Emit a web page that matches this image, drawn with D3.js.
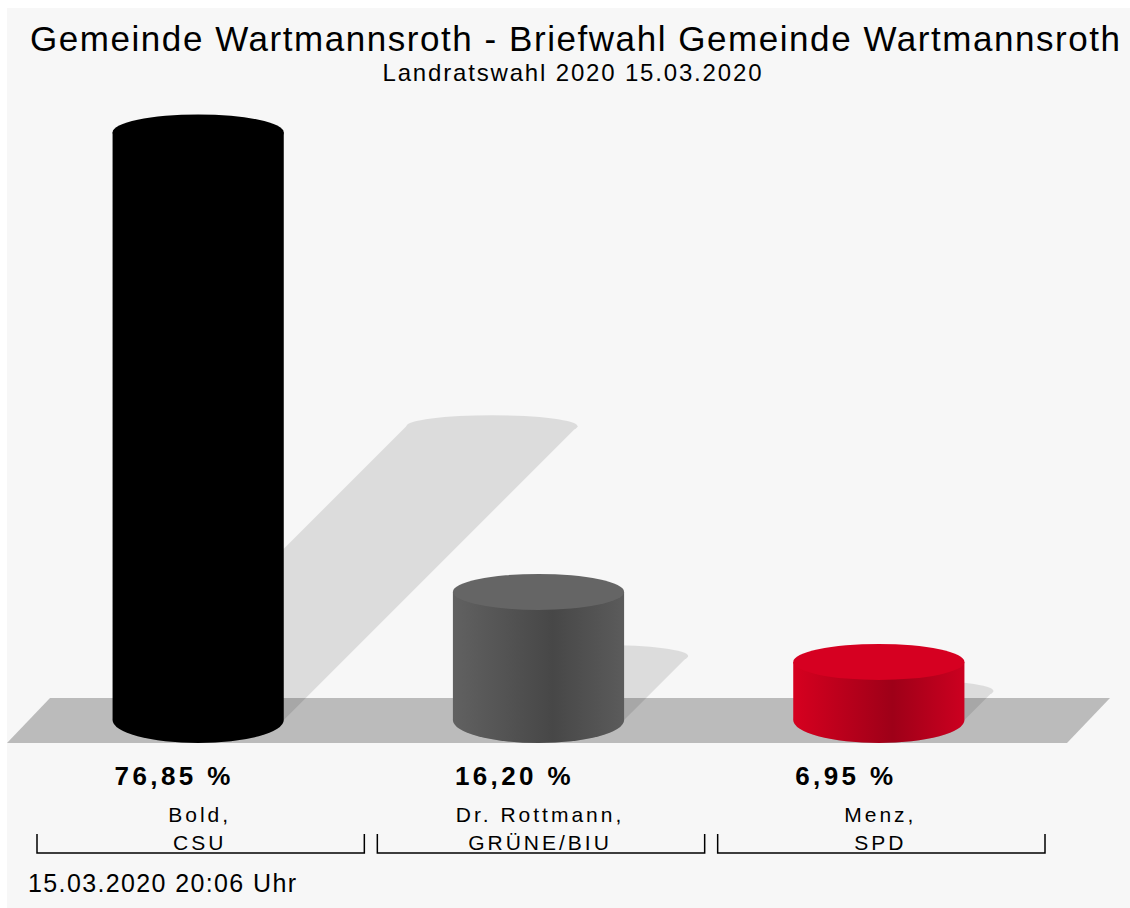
<!DOCTYPE html>
<html>
<head>
<meta charset="utf-8">
<script src="https://cdn.jsdelivr.net/npm/d3@7"></script>
<style>
    body { margin: 0; background: #ffffff; }
    svg text { font-family: "Liberation Sans", Arial, Helvetica, sans-serif; fill: #000; }
</style>
</head>
<body>
<svg id="chart" width="1130" height="908"></svg>
<script>
var title = "Gemeinde Wartmannsroth - Briefwahl Gemeinde Wartmannsroth";
var subtitle = "Landratswahl 2020 15.03.2020";
var footer = "15.03.2020 20:06 Uhr";

var candidates = ["Bold,", "Dr. Rottmann,", "Menz,"];
var parties = ["CSU", "GRÜNE/BIU", "SPD"];
var values = [76.85, 16.20, 6.95];
var bar_colors = [
    { side: ["#000000", "#000000", "#000000"], top: "#000000" },
    { side: ["#616161", "#474747", "#5b5b5b"], top: "#656565" },
    { side: ["#d6001f", "#9e0018", "#cc0020"], top: "#d60021" }
];

var width = 1130, height = 908;
var base_y = 720;          // bottom edge of the cylinder sides
var zero_y = 714.6;        // where value 0 would be on the scale
var top_ry = 18, bottom_ry = 23, shadow_ry = 11;

var svg = d3.select("#chart");
var de = d3.formatLocale({ decimal: ",", thousands: ".", grouping: [3], currency: ["", " €"] });
var fmt = de.format(".2f");

var x = d3.scaleBand()
    .domain(d3.range(values.length))
    .range([28, 1049])
    .padding(0);
var y = d3.scaleLinear()
    .domain([0, 100])
    .range([zero_y, zero_y - 757.5]);
var rx = x.bandwidth() * 0.503 / 2;

// panel
svg.append("rect")
    .attr("x", 7).attr("y", 8)
    .attr("width", width - 7).attr("height", height - 8)
    .attr("fill", "#f7f7f7");

// floor
svg.append("polygon")
    .attr("points", "50,698 1110,698 1067,743 7,743")
    .attr("fill", "#bbbbbb");

// gradients
var defs = svg.append("defs");
bar_colors.forEach(function (c, i) {
    var g = defs.append("linearGradient")
        .attr("id", "side" + i)
        .attr("x1", "0%").attr("x2", "100%")
        .attr("y1", "0%").attr("y2", "0%");
    g.append("stop").attr("offset", "0%").attr("stop-color", c.side[0]);
    g.append("stop").attr("offset", "58%").attr("stop-color", c.side[1]);
    g.append("stop").attr("offset", "100%").attr("stop-color", c.side[2]);
});

// shadows
svg.selectAll("g.shadow")
    .data(values)
    .enter()
    .append("g")
    .attr("class", "shadow")
    .attr("opacity", 0.1)
    .each(function (d, i) {
        var cx = x(i) + x.bandwidth() / 2;
        var s = (base_y - y(d)) * 0.5;
        var g = d3.select(this);
        g.append("polygon")
            .attr("points", [
                [cx - rx, base_y], [cx - rx + s, base_y - s],
                [cx + rx + s, base_y - s], [cx + rx, base_y]
            ].map(function (p) { return p.join(","); }).join(" "))
            .attr("fill", "#000");
        g.append("ellipse")
            .attr("cx", cx + s).attr("cy", base_y - s)
            .attr("rx", rx).attr("ry", shadow_ry)
            .attr("fill", "#000");
        g.append("ellipse")
            .attr("cx", cx).attr("cy", base_y)
            .attr("rx", rx).attr("ry", bottom_ry)
            .attr("fill", "#000");
    });

// cylinders
svg.selectAll("g.bar")
    .data(values)
    .enter()
    .append("g")
    .attr("class", "bar")
    .each(function (d, i) {
        var cx = x(i) + x.bandwidth() / 2;
        var yt = y(d);
        var g = d3.select(this);
        g.append("path")
            .attr("d", "M" + (cx - rx) + "," + yt +
                " L" + (cx - rx) + "," + base_y +
                " A" + rx + "," + bottom_ry + " 0 0 0 " + (cx + rx) + "," + base_y +
                " L" + (cx + rx) + "," + yt + " Z")
            .attr("fill", "url(#side" + i + ")");
        g.append("ellipse")
            .attr("cx", cx).attr("cy", yt)
            .attr("rx", rx).attr("ry", top_ry)
            .attr("fill", bar_colors[i].top);
    });

// percent labels
svg.selectAll("text.pct")
    .data(values)
    .enter()
    .append("text")
    .attr("class", "pct")
    .attr("x", function (d, i) { return x(i) + x.bandwidth() / 2 - rx + 2; })
    .attr("y", 785)
    .style("font-size", "26px")
    .style("font-weight", "bold")
    .style("letter-spacing", "3.4px")
    .text(function (d) { return fmt(d) + " %"; });

// candidate names
svg.selectAll("text.cand")
    .data(candidates)
    .enter()
    .append("text")
    .attr("class", "cand")
    .attr("x", function (d, i) { return x(i) + x.bandwidth() / 2 + 1.5; })
    .attr("y", 822)
    .attr("text-anchor", "middle")
    .style("font-size", "21px")
    .style("letter-spacing", "3px")
    .text(function (d) { return d; });

svg.selectAll("text.party")
    .data(parties)
    .enter()
    .append("text")
    .attr("class", "party")
    .attr("x", function (d, i) { return x(i) + x.bandwidth() / 2 + 1.5; })
    .attr("y", 850)
    .attr("text-anchor", "middle")
    .style("font-size", "21px")
    .style("letter-spacing", "3px")
    .text(function (d) { return d; });

// brackets
svg.selectAll("path.bracket")
    .data(values)
    .enter()
    .append("path")
    .attr("class", "bracket")
    .attr("d", function (d, i) {
        var x0 = x(i) + 9, x1 = x(i) + x.bandwidth() - 4;
        return "M" + x0 + ",834 L" + x0 + ",853 L" + x1 + ",853 L" + x1 + ",834";
    })
    .attr("fill", "none")
    .attr("stroke", "#000")
    .attr("stroke-width", 1.5);

// titles
svg.append("text")
    .attr("x", 575).attr("y", 51)
    .attr("text-anchor", "middle")
    .attr("textLength", 1090)
    .attr("lengthAdjust", "spacing")
    .style("font-size", "35px")
    .text(title);

svg.append("text")
    .attr("x", 572).attr("y", 81)
    .attr("text-anchor", "middle")
    .attr("textLength", 379)
    .attr("lengthAdjust", "spacing")
    .style("font-size", "24px")
    .text(subtitle);

svg.append("text")
    .attr("x", 28).attr("y", 892)
    .attr("textLength", 268)
    .attr("lengthAdjust", "spacing")
    .style("font-size", "25px")
    .text(footer);
</script>
</body>
</html>
